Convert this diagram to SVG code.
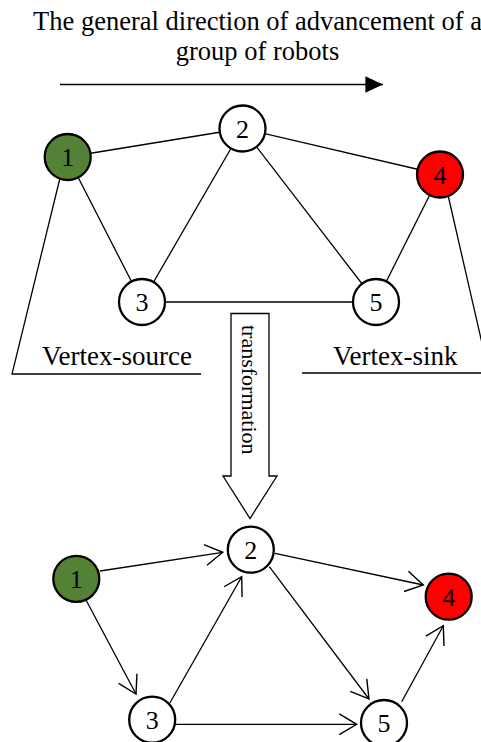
<svg xmlns="http://www.w3.org/2000/svg" width="481" height="742" viewBox="0 0 481 742">
  <style>
    text { font-family: "Liberation Serif", "Times New Roman", serif; fill: #000; }
    .lbl { font-size: 26.5px; }
    .side { font-size: 27px; }
    .num { font-size: 26px; text-anchor: middle; }
    .edge { stroke: #000; stroke-width: 1.3; fill: none; }
    .node { stroke: #000; stroke-width: 2.3; fill: #fff; }
    .src { fill: #538135; }
    .snk { fill: #ff0000; }
  </style>
  <defs>
    <marker id="solid" markerUnits="userSpaceOnUse" markerWidth="20" markerHeight="20" refX="0" refY="0" viewBox="-16 -8 17 16" orient="auto">
      <path d="M-15,-7 L0,0 L-15,7 Z" fill="#000"/>
    </marker>
    <marker id="open" markerUnits="userSpaceOnUse" markerWidth="24" markerHeight="24" refX="0" refY="0" viewBox="-18 -11 20 22" orient="auto">
      <path d="M-16,-9.5 L0,0 L-16,9.5" fill="none" stroke="#000" stroke-width="1.3"/>
    </marker>
  </defs>

  <!-- heading and direction arrow -->
  <text class="lbl" x="257.5" y="30" text-anchor="middle">The general direction of advancement of a</text>
  <text class="lbl" x="257.5" y="60" text-anchor="middle">group of robots</text>
  <line class="edge" x1="60" y1="84.5" x2="383" y2="84.5" marker-end="url(#solid)"/>

  <!-- undirected graph: connectors -->
  <g id="edges-top">
    <line class="edge" x1="67.7" y1="157" x2="242.5" y2="128.5"/>
    <line class="edge" x1="242.5" y1="128.5" x2="440" y2="174.5"/>
    <line class="edge" x1="67.7" y1="157" x2="142" y2="302"/>
    <line class="edge" x1="242.5" y1="128.5" x2="142" y2="302"/>
    <line class="edge" x1="242.5" y1="128.5" x2="376" y2="302"/>
    <line class="edge" x1="440" y1="174.5" x2="376" y2="302"/>
    <line class="edge" x1="142" y1="302" x2="376" y2="302"/>
    <!-- source bracket -->
    <polyline class="edge" points="60,178 12,374 201,374"/>
    <!-- sink bracket -->
    <line class="edge" x1="448" y1="195" x2="484" y2="352"/>
    <line class="edge" x1="302" y1="373" x2="481" y2="373"/>
  </g>

  <!-- undirected graph: vertices -->
  <g id="t1"><circle class="node src" cx="67.7" cy="157" r="23"/><text class="num" x="67.7" y="166">1</text></g>
  <g id="t2"><circle class="node" cx="242.5" cy="128.5" r="23"/><text class="num" x="242.5" y="137.5">2</text></g>
  <g id="t3"><circle class="node" cx="142" cy="302" r="23"/><text class="num" x="142" y="311">3</text></g>
  <g id="t4"><circle class="node snk" cx="440" cy="174.5" r="23"/><text class="num" x="440" y="183.5">4</text></g>
  <g id="t5"><circle class="node" cx="376" cy="302" r="23"/><text class="num" x="376" y="311">5</text></g>

  <text class="side" x="42" y="365">Vertex-source</text>
  <text class="side" x="333" y="365">Vertex-sink</text>

  <!-- transformation block arrow -->
  <g id="transform">
    <path d="M231,313.5 L269,313.5 L269,476 L277,476 L250,518.5 L223,476 L231,476 Z" fill="#fff" stroke="#000" stroke-width="1.3"/>
    <text transform="translate(242,325) rotate(90)" font-size="22">transformation</text>
  </g>

  <!-- directed graph: connectors -->
  <g id="edges-bottom">
    <line class="edge" x1="100" y1="571" x2="222.7" y2="552.3" marker-end="url(#open)"/>
    <line class="edge" x1="275" y1="553.3" x2="423.3" y2="585" marker-end="url(#open)"/>
    <line class="edge" x1="86" y1="600" x2="136" y2="694" marker-end="url(#open)"/>
    <line class="edge" x1="170" y1="702.7" x2="241.7" y2="576.7" marker-end="url(#open)"/>
    <line class="edge" x1="269.3" y1="566.7" x2="369" y2="699" marker-end="url(#open)"/>
    <line class="edge" x1="175.7" y1="724.3" x2="356.7" y2="724.3" marker-end="url(#open)"/>
    <line class="edge" x1="401.7" y1="701.7" x2="443.3" y2="625.7" marker-end="url(#open)"/>
  </g>

  <!-- directed graph: vertices -->
  <g id="b1"><circle class="node src" cx="76.3" cy="578.8" r="23"/><text class="num" x="76.3" y="587.8">1</text></g>
  <g id="b2"><circle class="node" cx="250.8" cy="549.7" r="23"/><text class="num" x="250.8" y="558.7">2</text></g>
  <g id="b3"><circle class="node" cx="152.2" cy="719.7" r="23"/><text class="num" x="152.2" y="728.7">3</text></g>
  <g id="b4"><circle class="node snk" cx="448.7" cy="596.7" r="23"/><text class="num" x="448.7" y="605.7">4</text></g>
  <g id="b5"><circle class="node" cx="384" cy="723" r="23"/><text class="num" x="384" y="732">5</text></g>
</svg>
